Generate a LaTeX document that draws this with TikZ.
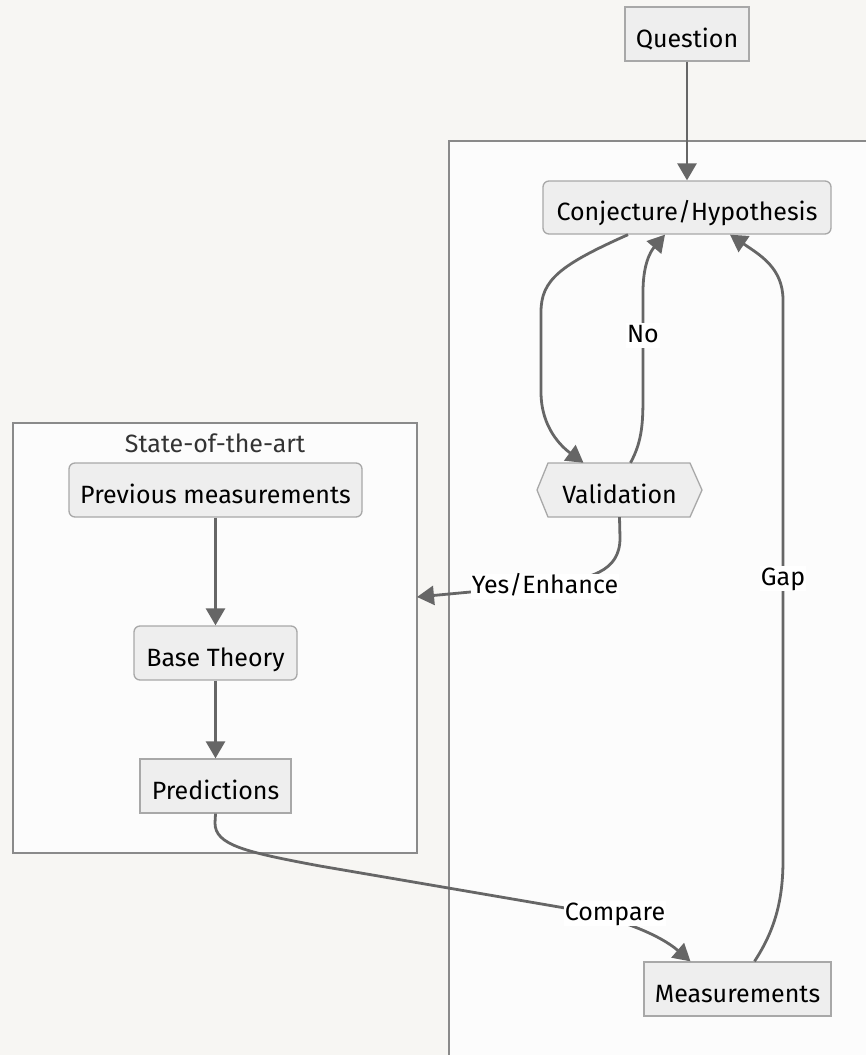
\documentclass[tikz,border=0pt]{standalone}
\usepackage{fontspec}
\setmainfont{Fira Sans}
\usetikzlibrary{arrows.meta}
\definecolor{bgc}{HTML}{F7F6F3}
\definecolor{clf}{HTML}{FCFCFC}
\definecolor{cld}{HTML}{8A8A8A}
\definecolor{ndf}{HTML}{EEEEEE}
\definecolor{ndd}{HTML}{A8A8A8}
\definecolor{edc}{HTML}{666666}
\tikzset{
  txt/.style={font=\fontsize{25}{28}\selectfont},
  box/.style={draw=ndd, fill=ndf, line width=1.3pt, txt, inner sep=0pt, anchor=center, text height=26pt, text depth=0pt},
  rbox/.style={box, rounded corners=6pt},
  cluster/.style={draw=cld, fill=clf, line width=1.3pt},
  edge/.style={draw=edc, line width=2.8pt, -{Triangle[length=17pt,width=19pt]}},
  elabel/.style={fill=white, inner sep=1pt, txt, anchor=base, text height=18pt, text depth=5pt},
}
\begin{document}
\begin{tikzpicture}[x=1pt,y=-1pt]
\useasboundingbox[fill=bgc] (0,0) rectangle (866,1055);
% clusters
\path[cluster] (449,141) rectangle (880,1070);
\path[cluster] (13,423) rectangle (417,853);
\node[txt, text=black!80, anchor=base] (satlabel) at (215,452) {State-of-the-art};
\coordinate (satedge) at (417,597);
% nodes
\node[box, minimum width=124pt, minimum height=54pt] (q) at (687,34) {Question};
\node[rbox, minimum width=288pt, minimum height=53pt] (conj) at (687,207.5) {Conjecture/Hypothesis};
\path[draw=ndd, fill=ndf, line width=1.3pt] (537,490) -- (548,463) -- (690,463) -- (702,490) -- (690,517) -- (548,517) -- cycle;
\node[txt, text height=26pt, text depth=0pt, minimum width=165pt, minimum height=54pt, inner sep=0pt] (val) at (619.5,490) {Validation};
\node[rbox, minimum width=293pt, minimum height=54pt] (prev) at (215.5,490) {Previous measurements};
\node[rbox, minimum width=163pt, minimum height=54pt] (base) at (215.5,653) {Base Theory};
\node[box, minimum width=151pt, minimum height=54pt] (pred) at (215.5,786) {Predictions};
\node[box, minimum width=187pt, minimum height=54pt] (meas) at (737.5,989) {Measurements};
% edges
\draw[edge] (q) -- (conj);
\draw[edge] (prev) -- (base);
\draw[edge] (base) -- (pred);
\draw[edge] ([xshift=-59pt]conj.south) .. controls (560,265) and (541,280) .. (541,312) -- (541,392) .. controls (541,428) and (562,447) .. ([xshift=-36pt]val.north);
\draw[edge] ([xshift=11pt]val.north) .. controls (643,440) and (643,420) .. (643,392) -- (643,292) .. controls (643,265) and (650,252) .. ([xshift=-22pt]conj.south);
\node[elabel] (nolab) at (643,342) {No};
\draw[edge] ([xshift=17pt]meas.north) .. controls (775,930) and (783,900) .. (783,860) -- (783,300) .. controls (783,268) and (760,255) .. ([xshift=43pt]conj.south);
\node[elabel] (gaplab) at (783,585) {Gap};
\draw[edge] (val.south) -- (620,538) .. controls (620,572) and (590,579) .. (545,585) -- (satedge);
\node[elabel] (yeslab) at (545,593) {Yes/Enhance};
\draw[edge] (pred.south) -- (215,823) .. controls (215,845) and (245,852) .. (320,866) -- (565,908) .. controls (620,918) and (660,935) .. ([xshift=-47pt]meas.north);
\node[elabel] (cmplab) at (615,920) {Compare};
\end{tikzpicture}
\end{document}
